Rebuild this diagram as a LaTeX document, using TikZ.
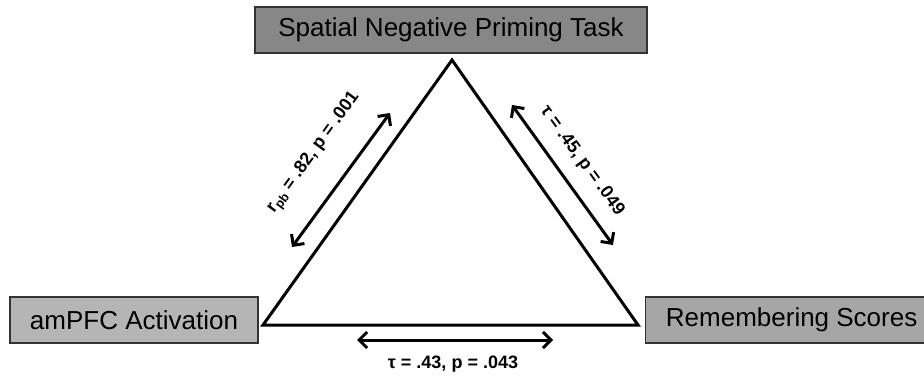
\documentclass[tikz,border=0pt]{standalone}
\usepackage{fontspec}
\setmainfont{Liberation Sans}
\usetikzlibrary{arrows.meta}
\definecolor{taskgray}{gray}{0.53}
\definecolor{ampgray}{gray}{0.71}
\definecolor{remgray}{gray}{0.65}
\begin{document}
\begin{tikzpicture}[
    x=1pt, y=-1pt,
    >={Straight Barb[length=8pt,width=16pt]},
    box/.style={draw=black!80, line width=1.3pt, minimum height=46pt, inner xsep=0pt, font=\fontsize{26}{30}\selectfont},
    side/.style={line width=3pt, line join=miter},
    arrow/.style={<->, line width=3pt},
    stat/.style={font=\bfseries\fontsize{18}{21}\selectfont}
]
  \useasboundingbox (0,0) rectangle (924,382);
  \clip (0,0) rectangle (924,382);

  \node[box, fill=taskgray, minimum width=392pt] (task) at (451,30) {Spatial Negative Priming Task};
  \node[box, fill=ampgray, minimum width=248pt] (ampfc) at (134,320) {amPFC Activation};
  \node[box, fill=remgray, minimum width=292pt, anchor=west] (remember) at (645,320) {Remembering Scores};

  % Triangle
  \coordinate (apex) at (452,60);
  \coordinate (lcorner) at (263,325);
  \coordinate (rcorner) at (638,325);
  \draw[side] (apex) -- (lcorner) -- (rcorner) -- cycle;

  % Correlation arrows
  \coordinate (la) at (292,247);
  \coordinate (lb) at (390,113);
  \coordinate (ra) at (512,105);
  \coordinate (rb) at (613,245);
  \coordinate (ba) at (357,340);
  \coordinate (bb) at (553,340);
  \draw[arrow] (la) -- (lb);
  \draw[arrow] (ra) -- (rb);
  \draw[arrow] (ba) -- (bb);

  % Labels
  \node[stat, rotate=54] (lstat) at (314,153) {r\textsubscript{pb} = .82, p = .001};
  \node[stat, rotate=-54] (rstat) at (582,161) {τ = .45, p = .049};
  \node[stat] (bstat) at (453,364) {τ = .43, p = .043};
\end{tikzpicture}
\end{document}
